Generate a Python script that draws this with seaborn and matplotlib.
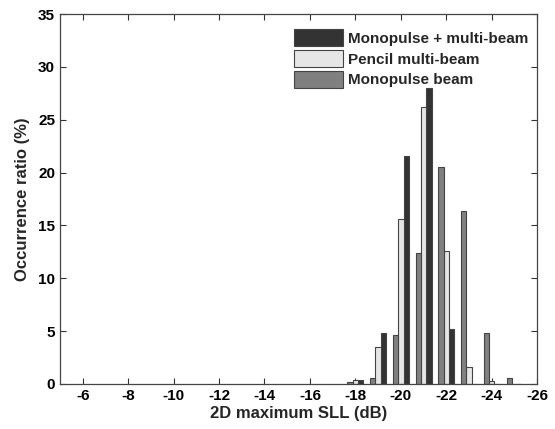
import numpy as np
import pandas as pd
import matplotlib
matplotlib.use("Agg")
import matplotlib.pyplot as plt
import seaborn as sns

# data
sll_levels = [-18, -19, -20, -21, -22, -23, -24, -25]
mono_multi = [0.4, 4.8, 21.6, 28.0, 5.2, 0.0, 0.0, 0.0]
pencil_multi = [0.4, 3.5, 15.6, 26.2, 12.6, 1.6, 0.3, 0.0]
mono_beam = [0.15, 0.6, 4.6, 12.4, 20.5, 16.4, 4.8, 0.6]
series_names = ["Monopulse + multi-beam", "Pencil multi-beam", "Monopulse beam"]
x_ticks = list(range(-6, -27, -2))
y_ticks = list(range(0, 36, 5))

sns.set_style("ticks")
plt.rcParams["font.family"] = ["Liberation Sans", "DejaVu Sans"]
plt.rcParams["font.weight"] = "bold"

df = pd.DataFrame({
    "sll": sll_levels * 3,
    "ratio": mono_multi + pencil_multi + mono_beam,
    "series": np.repeat(series_names, len(sll_levels)),
})

colors = {"Monopulse + multi-beam": "#333333",
          "Pencil multi-beam": "#e6e6e6",
          "Monopulse beam": "#808080"}

fig = plt.figure(figsize=(5.55, 4.29), dpi=100)
ax = fig.add_axes([0.108, 0.105, 0.860, 0.862])

sns.barplot(data=df, x="sll", y="ratio", hue="series", hue_order=series_names,
            palette=colors, native_scale=True, width=0.7, errorbar=None,
            edgecolor="#444444", linewidth=0.8, ax=ax)

ax.set_xlim(-5, -26)
ax.set_ylim(0, 35)
ax.set_xticks(x_ticks)
ax.set_xticklabels([str(t) for t in x_ticks])
ax.set_yticks(y_ticks)
ax.tick_params(direction="in", top=True, right=True, length=4, width=0.8,
               labelsize=11, colors="#333333", labelcolor="black")
for lab in ax.get_xticklabels() + ax.get_yticklabels():
    lab.set_fontweight("bold")
for s in ax.spines.values():
    s.set_color("#444444")
    s.set_linewidth(0.9)

ax.set_xlabel("2D maximum SLL (dB)", fontsize=12, fontweight="bold", labelpad=2)
ax.set_ylabel("Occurrence ratio (%)", fontsize=12, fontweight="bold", labelpad=6)

leg = ax.legend(loc="upper right", bbox_to_anchor=(1.0, 0.985), frameon=False,
                fontsize=11, handlelength=3.2, handleheight=1.35,
                labelspacing=0.25, handletextpad=0.3, borderaxespad=0.2)
for t in leg.get_texts():
    t.set_fontweight("bold")

fig.savefig("out.png", dpi=100)
